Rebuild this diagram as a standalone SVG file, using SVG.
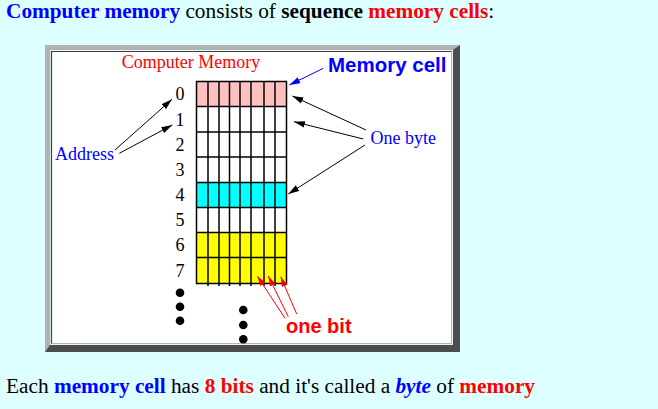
<svg xmlns="http://www.w3.org/2000/svg" width="658" height="409" viewBox="0 0 658 409">
<defs>
<style>
.serif{font-family:"Liberation Serif","Times New Roman",serif}
.sans{font-family:"Liberation Sans",Arial,sans-serif}
.blue{fill:#0000ff}
.red{fill:#ff0000}
.grid line{stroke:#000;stroke-width:1.5}
.digit{font-family:"Liberation Serif",serif;font-size:18px;fill:#000;text-anchor:middle}
.dot{fill:#000}
</style>
<marker id="ab" viewBox="0 0 10 6" refX="10" refY="3" markerWidth="11" markerHeight="7" markerUnits="userSpaceOnUse" orient="auto"><path d="M0,0 L10,3 L0,6 z" fill="#000"/></marker>
<marker id="abl" viewBox="0 0 10 6" refX="10" refY="3" markerWidth="11" markerHeight="7" markerUnits="userSpaceOnUse" orient="auto"><path d="M0,0 L10,3 L0,6 z" fill="#0000ff"/></marker>
<marker id="ar" viewBox="0 0 10 6" refX="10" refY="3" markerWidth="10" markerHeight="6" markerUnits="userSpaceOnUse" orient="auto"><path d="M0,0 L10,3 L0,6 z" fill="#ff0000"/></marker>
</defs>
<rect width="658" height="409" fill="#ddffff"/>
<g id="heading">
<text class="serif" x="6" y="18" font-size="21.3"><tspan font-weight="bold" class="blue">Computer memory</tspan> consists of <tspan font-weight="bold">sequence</tspan> <tspan font-weight="bold" class="red">memory cells</tspan>:</text>
</g>
<g id="frame">
<rect x="45" y="45" width="415" height="307" fill="#4d4d4d"/>
<polygon points="45,45 460,45 453,50 50,50 50,345 45,352" fill="#b2b2b2"/>
<rect x="50" y="50" width="403" height="295" fill="#e4f8f8"/>
<rect x="51.5" y="51.5" width="400" height="292" fill="#fff" stroke="#a8b8b8" stroke-width="1"/>
<path d="M51.5,343.5 V51.5 H451.5" fill="none" stroke="#404040" stroke-width="1.2"/>
</g>
<g id="title">
<text class="serif red" x="191" y="68" font-size="18" text-anchor="middle">Computer Memory</text>
</g>
<g id="memory">
<rect x="196.5" y="81.5" width="90" height="25" fill="#ffc0c0"/>
<rect x="196.5" y="182.5" width="90" height="25" fill="#00ffff"/>
<rect x="196.5" y="232.5" width="90" height="51" fill="#ffff00"/>
<g class="grid">
<line x1="196.5" y1="81.5" x2="196.5" y2="284.2"/>
<line x1="208" y1="81.5" x2="208" y2="286"/>
<line x1="219" y1="81.5" x2="219" y2="286"/>
<line x1="229.5" y1="81.5" x2="229.5" y2="286"/>
<line x1="240" y1="81.5" x2="240" y2="286"/>
<line x1="251" y1="81.5" x2="251" y2="286"/>
<line x1="264" y1="81.5" x2="264" y2="286"/>
<line x1="275" y1="81.5" x2="275" y2="286"/>
<line x1="286.5" y1="81.5" x2="286.5" y2="284.2"/>
<line x1="196" y1="81.5" x2="287" y2="81.5"/>
<line x1="196" y1="106.5" x2="287" y2="106.5"/>
<line x1="196" y1="132" x2="287" y2="132"/>
<line x1="196" y1="157" x2="287" y2="157"/>
<line x1="196" y1="182.5" x2="287" y2="182.5"/>
<line x1="196" y1="207.5" x2="287" y2="207.5"/>
<line x1="196" y1="232.5" x2="287" y2="232.5"/>
<line x1="196" y1="257.5" x2="287" y2="257.5"/>
<line x1="196" y1="283.5" x2="287" y2="283.5"/>
</g>
</g>
<g id="addresses">
<text class="digit" x="180" y="100">0</text>
<text class="digit" x="180" y="126">1</text>
<text class="digit" x="180" y="151">2</text>
<text class="digit" x="180" y="176">3</text>
<text class="digit" x="180" y="201">4</text>
<text class="digit" x="180" y="226">5</text>
<text class="digit" x="180" y="251">6</text>
<text class="digit" x="180" y="277">7</text>
<circle class="dot" cx="180" cy="292.7" r="4.3"/>
<circle class="dot" cx="180" cy="306.7" r="4.3"/>
<circle class="dot" cx="180" cy="320.7" r="4.3"/>
<circle class="dot" cx="243.3" cy="310" r="4.3"/>
<circle class="dot" cx="243.3" cy="325" r="4.3"/>
<circle class="dot" cx="243.3" cy="339.3" r="4.3"/>
</g>
<g id="labels">
<text class="serif blue" x="55" y="159.5" font-size="18">Address</text>
<text class="sans blue" x="328" y="71.7" font-size="20.5" font-weight="bold">Memory cell</text>
<text class="serif blue" x="370.5" y="144" font-size="18">One byte</text>
<text class="sans red" x="286" y="333.3" font-size="20" font-weight="bold">one bit</text>
</g>
<g id="connectors" fill="none">
<line x1="115" y1="150" x2="172" y2="99.3" stroke="#000" stroke-width="1" marker-end="url(#ab)"/>
<line x1="119.3" y1="153.3" x2="172.3" y2="125" stroke="#000" stroke-width="1" marker-end="url(#ab)"/>
<line x1="366" y1="130" x2="292.3" y2="96" stroke="#000" stroke-width="1" marker-end="url(#ab)"/>
<line x1="363.3" y1="139" x2="294" y2="121.7" stroke="#000" stroke-width="1" marker-end="url(#ab)"/>
<line x1="365" y1="145" x2="288.3" y2="194" stroke="#000" stroke-width="1" marker-end="url(#ab)"/>
<line x1="323.3" y1="68.3" x2="289.3" y2="85" stroke="#0000ff" stroke-width="1" marker-end="url(#abl)"/>
<line x1="285" y1="318.3" x2="257.3" y2="276" stroke="#ff0000" stroke-width="1" marker-end="url(#ar)"/>
<line x1="288.3" y1="316.7" x2="268.3" y2="276" stroke="#ff0000" stroke-width="1" marker-end="url(#ar)"/>
<line x1="296.7" y1="314" x2="280.7" y2="276.7" stroke="#ff0000" stroke-width="1" marker-end="url(#ar)"/>
</g>
<g id="footer">
<text class="serif" x="6" y="393.3" font-size="21.3">Each <tspan font-weight="bold" class="blue">memory cell</tspan> has <tspan font-weight="bold" class="red">8 bits</tspan> and it's called a <tspan font-weight="bold" font-style="italic" class="blue">byte</tspan> of <tspan font-weight="bold" class="red">memory</tspan></text>
</g>
</svg>
